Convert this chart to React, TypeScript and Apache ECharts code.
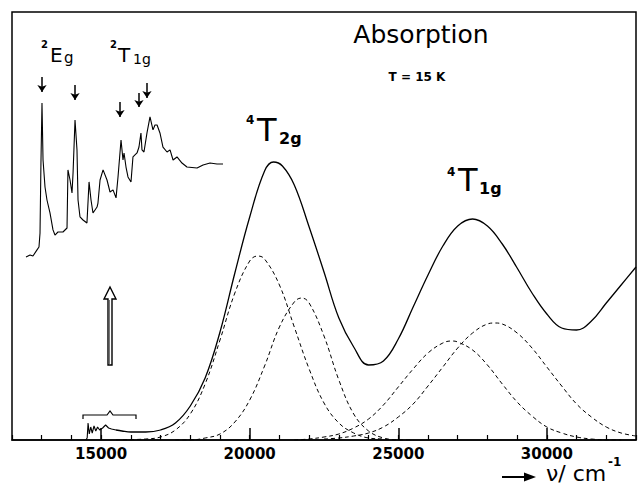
import { useEffect, useRef } from 'react';
import * as echarts from 'echarts';

const FONT = '"DejaVu Sans", sans-serif';

// x axis: wavenumber (cm^-1)
const xMin = 12000;
const xMax = 33000;
const xTickLabels = [15000, 20000, 25000, 30000];

// total absorption (solid), arbitrary units
const totalAbs: [number, number][] = [
  [15500, 0.1], [15700, 0.09], [16000, 0.08], [16500, 0.08], [17000, 0.1], [17500, 0.17],
  [18000, 0.34], [18500, 0.62], [19000, 1.08], [19500, 1.67], [20000, 2.23], [20500, 2.69],
  [20800, 2.78], [21100, 2.74], [21500, 2.55], [22000, 2.13], [22500, 1.68], [23000, 1.22],
  [23500, 0.93], [24000, 0.75], [24500, 0.79], [25000, 1.01], [25500, 1.33], [26000, 1.65],
  [26500, 1.94], [27000, 2.14], [27500, 2.21], [28000, 2.14], [28500, 1.96], [29000, 1.72],
  [29500, 1.47], [30000, 1.26], [30500, 1.12], [31000, 1.1], [31500, 1.19], [32000, 1.37],
  [32500, 1.55], [33000, 1.73],
];

// weak spin-forbidden region on the main trace
const lowSpectrum: [number, number][] = [
  [14480, 0.0], [14530, 0.02], [14560, 0.17], [14600, 0.06], [14650, 0.13], [14700, 0.07],
  [14760, 0.14], [14820, 0.09], [14880, 0.13], [14950, 0.1], [15050, 0.12], [15150, 0.15],
  [15250, 0.12], [15350, 0.11], [15500, 0.1],
];

// Gaussian components (dashed)
const band1: [number, number][] = [
  [15500, 0], [16500, 0.01], [17000, 0.03], [17500, 0.1], [18000, 0.26], [18500, 0.56],
  [19000, 1.0], [19500, 1.47], [20000, 1.79], [20270, 1.84], [20500, 1.81], [21000, 1.55],
  [21500, 1.13], [22000, 0.71], [22500, 0.37], [23000, 0.17], [23500, 0.07], [24000, 0.02],
  [24500, 0.01], [25000, 0],
];
const band2: [number, number][] = [
  [17500, 0], [18000, 0], [18500, 0.02], [19000, 0.06], [19500, 0.18], [20000, 0.4],
  [20500, 0.74], [21000, 1.13], [21500, 1.38], [21750, 1.42], [22000, 1.37], [22500, 1.04],
  [23000, 0.6], [23500, 0.26], [24000, 0.09], [24500, 0.02], [25000, 0], [25500, 0],
];
const band3: [number, number][] = [
  [21500, 0], [22000, 0.01], [22500, 0.03], [23000, 0.06], [23500, 0.12], [24000, 0.21],
  [24500, 0.35], [25000, 0.53], [25500, 0.71], [26000, 0.87], [26500, 0.97], [26800, 0.99],
  [27000, 0.98], [27500, 0.9], [28000, 0.75], [28500, 0.56], [29000, 0.38], [29500, 0.24],
  [30000, 0.13], [30500, 0.07], [31000, 0.03], [31500, 0.01], [32000, 0], [32500, 0],
];
const band4: [number, number][] = [
  [22500, 0.01], [23000, 0.02], [23500, 0.04], [24000, 0.07], [24500, 0.13], [25000, 0.23],
  [25500, 0.36], [26000, 0.54], [26500, 0.73], [27000, 0.92], [27500, 1.07], [28000, 1.16],
  [28250, 1.17], [28500, 1.16], [29000, 1.07], [29500, 0.92], [30000, 0.73], [30500, 0.54],
  [31000, 0.36], [31500, 0.23], [32000, 0.13], [32500, 0.07], [33000, 0.04],
];

// expanded inset spectrum (relative intensity)
const insetSpectrum: [number, number][] = [
  [14400, 1.9], [14435, 3.1], [14460, 2.5], [14495, 6.3], [14512, 8.1], [14521, 16.9],
  [14529, 60.6], [14538, 98.1], [14547, 62.5], [14564, 45.6], [14581, 37.5], [14607, 29.4],
  [14633, 18.8], [14650, 15.6], [14676, 17.5], [14719, 17.5], [14754, 20], [14762, 56.3],
  [14780, 50], [14797, 41.9], [14806, 54.4], [14823, 87.5], [14840, 68.8], [14849, 37.5],
  [14866, 26.9], [14892, 25], [14926, 23.1], [14944, 48.8], [14961, 37.5], [14978, 29.4],
  [15013, 33.1], [15021, 35.6], [15039, 50], [15065, 56.3], [15099, 50], [15125, 42.5],
  [15151, 43.8], [15177, 38.8], [15194, 51.9], [15220, 75], [15237, 62.5], [15246, 66.9],
  [15263, 58.1], [15280, 51.9], [15306, 48.8], [15323, 64.4], [15358, 66.9], [15375, 70.6],
  [15392, 79.4], [15401, 68.8], [15418, 67.5], [15444, 79.4], [15470, 89.4], [15496, 81.3],
  [15513, 84.4], [15531, 84.4], [15556, 79.4], [15582, 70.6], [15617, 67.5], [15643, 68.8],
  [15669, 62.5], [15703, 64.4], [15746, 60.6], [15789, 58.1], [15876, 57.5], [15928, 59.4],
  [15988, 60.6], [16048, 60], [16100, 60],
];

// arrows in the inset: [x, arrow top, arrow tip]
const insetArrows: [number, number, number][] = [
  [14538, 114.4, 105], [14823, 109.4, 100], [15211, 98.8, 89.4], [15375, 104.4, 95.6], [15444, 110.6, 101.3],
];

function txt(x: number, y: number, text: string, size: number, weight = 'normal', align = 'left') {
  return {
    type: 'text',
    x,
    y,
    silent: true,
    style: {
      text,
      font: `${weight} ${size}px ${FONT}`,
      fill: '#000',
      textAlign: align,
      textVerticalAlign: 'middle',
    },
  };
}

export default function App() {
  const ref = useRef<HTMLDivElement>(null);
  useEffect(() => {
    if (!ref.current) return;
    const chart = echarts.init(ref.current, undefined, { renderer: 'svg' });
    const dashed = { color: '#000', width: 1, type: [4, 3] as any };
    const option: any = {
      animation: false,
      backgroundColor: '#fff',
      grid: [
        { left: 12, right: 5, top: 12, bottom: 45, show: true, borderColor: '#000', borderWidth: 1.5 },
        { left: 26, top: 52, width: 197, height: 208, show: false },
      ],
      xAxis: [
        {
          gridIndex: 0,
          type: 'value',
          min: xMin,
          max: xMax,
          interval: 1000,
          axisLine: { show: true, lineStyle: { color: '#000', width: 1.5 } },
          axisTick: { show: true, inside: true, length: 5, lineStyle: { color: '#000', width: 1.2 } },
          axisLabel: {
            color: '#000',
            fontSize: 15,
            fontWeight: 'bold',
            fontFamily: FONT,
            margin: 6,
            formatter: (v: number) => (xTickLabels.includes(v) ? String(v) : ''),
          },
          splitLine: { show: false },
        },
        { gridIndex: 1, type: 'value', min: 14400, max: 16100, show: false },
      ],
      yAxis: [
        { gridIndex: 0, type: 'value', min: 0, max: 4.28, show: false },
        { gridIndex: 1, type: 'value', min: 0, max: 130, show: false },
      ],
      series: [
        {
          type: 'line',
          data: totalAbs,
          smooth: 0.4,
          showSymbol: false,
          lineStyle: { color: '#000', width: 1.3 },
          silent: true,
          markLine: {
            silent: true,
            symbol: 'none',
            label: { show: false },
            lineStyle: { color: '#000', width: 1.5, type: 'solid' },
            data: xTickLabels.map((v) => [{ coord: [v, 0] }, { coord: [v, 0.12] }]),
          },
        },
        {
          type: 'line',
          data: lowSpectrum,
          showSymbol: false,
          lineStyle: { color: '#000', width: 1.1 },
          silent: true,
        },
        ...[band1, band2, band3, band4].map((b) => ({
          type: 'line',
          data: b,
          smooth: 0.4,
          showSymbol: false,
          lineStyle: dashed,
          silent: true,
        })),
        {
          type: 'line',
          xAxisIndex: 1,
          yAxisIndex: 1,
          data: insetSpectrum,
          showSymbol: false,
          lineStyle: { color: '#000', width: 1.1 },
          silent: true,
          markLine: {
            silent: true,
            symbol: ['none', 'arrow'],
            symbolSize: 7,
            label: { show: false },
            lineStyle: { color: '#000', width: 1.5, type: 'solid' },
            data: insetArrows.map(([x, t, b]) => [{ coord: [x, t] }, { coord: [x, b] }]),
          },
        },
      ],
      graphic: [
        txt(421, 34, 'Absorption', 25, 'normal', 'center'),
        txt(417, 77, 'T = 15 K', 12, 'bold', 'center'),
        // 4T2g
        txt(246, 120, '4', 12, 'bold'),
        txt(257, 130, 'T', 32),
        txt(279, 138, '2g', 16, 'bold'),
        // 4T1g
        txt(447, 172, '4', 12, 'bold'),
        txt(458, 180, 'T', 32),
        txt(479, 188, '1g', 16, 'bold'),
        // 2Eg
        txt(41, 44, '2', 10, 'bold'),
        txt(50, 55, 'E', 20),
        txt(64, 58, 'g', 15),
        // 2T1g
        txt(110, 44, '2', 10, 'bold'),
        txt(118, 55, 'T', 20),
        txt(133, 59, '1g', 14),
        // axis title
        txt(546, 473.5, 'ν/ cm', 22),
        txt(608, 462, '-1', 12, 'bold'),
        {
          type: 'line',
          silent: true,
          shape: { x1: 502, y1: 477, x2: 528, y2: 477 },
          style: { stroke: '#000', lineWidth: 2 },
        },
        {
          type: 'polygon',
          silent: true,
          shape: { points: [[524, 472.5], [536, 477], [524, 481.5]] },
          style: { fill: '#000' },
        },
        // hollow up arrow
        {
          type: 'polygon',
          silent: true,
          shape: {
            points: [[108, 365], [108, 299], [104, 299], [110, 287], [116, 299], [112, 299], [112, 365]],
          },
          style: { fill: '#fff', stroke: '#000', lineWidth: 1.4 },
        },
        {
          type: 'line',
          silent: true,
          shape: { x1: 109.3, y1: 300, x2: 109.3, y2: 364 },
          style: { stroke: '#555', lineWidth: 1 },
        },
        // brace
        {
          type: 'polyline',
          silent: true,
          shape: { points: [[83, 419], [83, 415], [107, 415], [110, 411], [113, 415], [136, 415], [136, 419]] },
          style: { stroke: '#000', lineWidth: 1.2, fill: 'none' },
        },
      ],
    };
    chart.setOption(option);
    return () => chart.dispose();
  }, []);
  return (
    <div
      ref={ref}
      style={{ position: 'fixed', left: 0, top: 0, width: 641, height: 485, background: '#fff' }}
    />
  );
}
